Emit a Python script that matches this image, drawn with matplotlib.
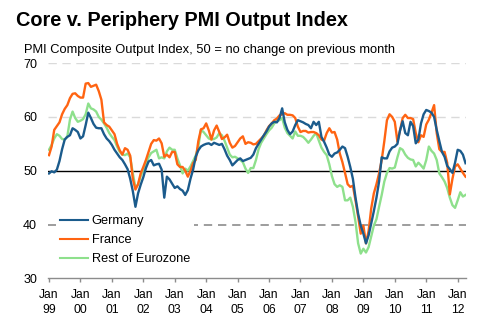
import numpy as np
import matplotlib
matplotlib.use("Agg")
import matplotlib.pyplot as plt

plt.rcParams['font.family'] = ['Liberation Sans', 'DejaVu Sans']

# Monthly PMI composite output, Jan 1999 - Apr 2012
germany = [
    49.5, 49.9, 49.7, 50.2, 51.8, 54.0, 55.8, 56.3, 56.6, 57.9, 57.6, 57.2,
    56.0, 56.4, 58.5, 60.8, 59.8, 58.7, 58.0, 57.9, 57.9, 56.8, 56.0, 55.5,
    54.8, 53.9, 53.2, 52.5, 52.0, 51.2, 50.3, 48.5, 46.2, 43.3, 45.8, 47.4,
    48.8, 50.5, 51.7, 52.0, 51.0, 51.2, 51.3, 50.2, 45.0, 48.9, 48.4, 47.6,
    46.8, 47.1, 46.6, 46.3, 45.5, 46.4, 48.5, 50.2, 52.6, 53.8, 54.5, 54.8,
    55.0, 55.1, 54.8, 55.2, 55.0, 54.8, 55.0, 54.0, 52.8, 52.0, 51.0, 51.5,
    52.0, 52.3, 51.8, 52.0, 52.2, 52.4, 53.0, 54.2, 55.0, 55.8, 56.6, 57.3,
    58.2, 58.8, 59.1, 59.0, 59.8, 61.6, 59.0, 57.6, 56.8, 57.3, 58.5, 59.4,
    59.2, 59.0, 58.7, 58.5, 57.9, 59.1, 58.5, 59.1, 56.3, 55.4, 54.3, 53.0,
    52.6, 53.2, 53.4, 53.9, 54.5, 54.2, 52.6, 50.7, 48.5, 45.0, 42.0, 39.8,
    38.3, 36.5, 38.0, 40.2, 42.5, 45.0, 48.0, 52.5, 52.3, 52.3, 53.6, 54.3,
    54.5, 55.0, 57.5, 59.2, 57.0, 56.6, 59.1, 58.3, 55.1, 55.8, 58.8, 60.5,
    61.3, 61.1, 60.8, 60.0, 57.6, 55.5, 53.5, 52.6, 50.9, 50.3, 49.6, 51.5,
    53.9, 53.7, 53.0, 51.4,
]

france = [
    52.9, 54.5, 57.6, 58.3, 59.0, 60.5, 61.5, 62.2, 63.5, 64.3, 64.4, 63.9,
    63.6, 63.6, 66.2, 66.3, 65.6, 65.8, 66.0, 64.8, 63.2, 59.0, 58.5, 58.2,
    57.5, 56.8, 55.0, 53.8, 53.0, 54.2, 53.9, 52.8, 48.5, 46.5, 47.5, 49.5,
    50.7, 52.0, 53.5, 55.0, 55.7, 55.6, 56.0, 55.1, 52.6, 53.0, 52.5, 53.5,
    53.5, 51.2, 50.7, 50.7, 50.0, 48.9, 50.0, 51.4, 52.0, 55.5, 57.7, 57.9,
    58.8, 57.5, 55.8, 57.5, 58.4, 57.2, 55.9, 56.2, 56.7, 55.2, 54.3, 54.6,
    55.3, 56.0, 56.4, 55.0, 55.3, 55.2, 54.9, 55.0, 55.5, 56.0, 56.5, 57.5,
    58.3, 58.8, 59.4, 59.7, 60.3, 60.5, 60.7, 60.4, 60.4, 60.3, 59.8, 58.2,
    57.2, 57.4, 57.4, 57.1, 57.2, 57.2, 57.0, 56.6, 55.8, 55.6, 57.0, 57.9,
    57.1, 57.2, 55.8, 53.2, 51.6, 49.6, 47.5, 47.0, 47.2, 44.5, 41.5, 38.3,
    39.8, 36.5, 38.8, 43.0, 45.8, 47.5, 49.5, 52.0, 55.5, 59.4, 60.5, 60.0,
    59.1, 55.4, 57.5, 59.8, 60.4, 59.8, 59.8, 59.6, 57.0, 55.3, 56.6, 56.3,
    58.6, 59.5, 60.8, 62.2, 57.0, 54.0, 53.5, 53.5, 51.5, 45.6, 48.5, 50.8,
    51.2, 50.4, 49.6, 48.9,
]

rest_of_eurozone = [
    53.9, 54.8, 56.0, 56.8, 56.5, 55.9, 55.8, 56.4, 59.5, 61.0, 59.8, 59.1,
    59.3, 59.6, 60.5, 62.5, 61.6, 61.4, 61.0, 60.0, 59.5, 58.8, 58.0, 57.0,
    56.3, 55.7, 54.5, 53.5, 53.0, 52.9, 53.2, 52.5, 49.5, 46.9, 47.4, 49.0,
    50.1, 51.3, 52.5, 53.3, 53.6, 53.9, 52.3, 52.5, 52.3, 53.6, 54.3, 53.9,
    53.9, 52.3, 51.0, 49.5, 50.4, 50.0, 50.8, 51.8, 52.8, 54.5, 57.6, 57.2,
    56.6, 56.0, 55.8, 55.9, 56.2, 57.0, 56.6, 55.6, 54.3, 53.0, 52.5, 52.6,
    52.3, 52.0, 51.6, 50.4, 49.6, 50.5, 50.5, 52.0, 54.0, 55.2, 56.0, 56.8,
    57.5, 58.0, 58.8, 59.2, 59.4, 59.8, 58.0, 57.0, 56.5, 56.0, 57.3, 56.5,
    56.5, 56.3, 55.8, 55.2, 55.8, 56.5, 57.0, 55.6, 54.3, 53.5, 52.9, 51.2,
    49.0, 47.5, 47.0, 47.3, 47.0, 44.5, 44.5, 45.0, 43.3, 40.5, 36.5, 34.6,
    35.5, 34.8, 35.8, 37.8, 39.8, 41.0, 43.3, 45.5, 48.0, 49.6, 50.5, 50.4,
    50.6, 52.5, 54.2, 53.9, 53.0, 52.4, 52.1, 52.0, 50.8, 51.5, 51.0, 50.4,
    52.0, 54.5, 53.7, 53.2, 52.0, 49.5, 48.8, 48.0, 46.8, 45.0, 43.6, 43.1,
    44.5, 46.0, 45.2, 45.5,
]

series_names = ["Germany", "France", "Rest of Eurozone"]
series_colors = ["#1B5B8C", "#FF6412", "#8EE08C"]
years = ["99", "00", "01", "02", "03", "04", "05", "06", "07", "08", "09", "10", "11", "12"]
y_ticks = [30, 40, 50, 60, 70]

months = np.arange(len(germany))

fig = plt.figure(figsize=(4.87, 3.24), dpi=100)
ax = fig.add_axes([0.099, 0.141, 0.858, 0.664])

# reference lines
for level in (60, 70):
    ax.axhline(level, color="#DADADA", lw=1.0, ls=(0, (6, 4)), zorder=1)
ax.axhline(40, color="#8C8C8C", lw=1.2, ls=(0, (5, 3.5)), zorder=1)
ax.axhline(50, color="black", lw=1.0, zorder=2)

lines = []
for vals, name, col in zip([germany, france, rest_of_eurozone], series_names, series_colors):
    ln, = ax.plot(months, vals, color=col, lw=1.7, label=name)
    lines.append(ln)

# draw order: green underneath, orange, blue on top
lines[2].set_zorder(3)
lines[1].set_zorder(4)
lines[0].set_zorder(5)

ax.set_xlim(-0.3, len(germany) - 0.8)
ax.set_ylim(30, 70)
ax.set_yticks(y_ticks)
ax.set_yticklabels([str(v) for v in y_ticks])
ax.set_xticks(np.arange(len(years)) * 12)
ax.set_xticklabels([f"Jan\n{y}" for y in years], linespacing=1.35)

for side in ("left", "right", "top"):
    ax.spines[side].set_visible(False)
ax.spines["bottom"].set_color("#8C8C8C")
ax.spines["bottom"].set_linewidth(1.0)

ax.tick_params(axis="y", length=0, pad=8, labelsize=9)
ax.tick_params(axis="x", length=3, width=1, color="#8C8C8C", pad=4.5, labelsize=8.7)

leg = ax.legend(handles=lines, loc="upper left", bbox_to_anchor=(0.018, 0.312),
                frameon=True, fontsize=9.2, handlelength=2.25, handletextpad=0.25,
                labelspacing=0.55, borderpad=0.3, borderaxespad=0.0)
leg.get_frame().set_facecolor("white")
leg.get_frame().set_edgecolor("none")
leg.get_frame().set_alpha(1.0)
leg.set_zorder(6)
for h in leg.get_lines():
    h.set_linewidth(1.5)

fig.text(16 / 487, 1 - 26 / 324, "Core v. Periphery PMI Output Index",
         fontsize=14.3, fontweight="bold", va="baseline", ha="left")
fig.text(24 / 487, 1 - 52.5 / 324,
         "PMI Composite Output Index, 50 = no change on previous month",
         fontsize=9.25, va="baseline", ha="left")

fig.savefig("out.png", dpi=100)
